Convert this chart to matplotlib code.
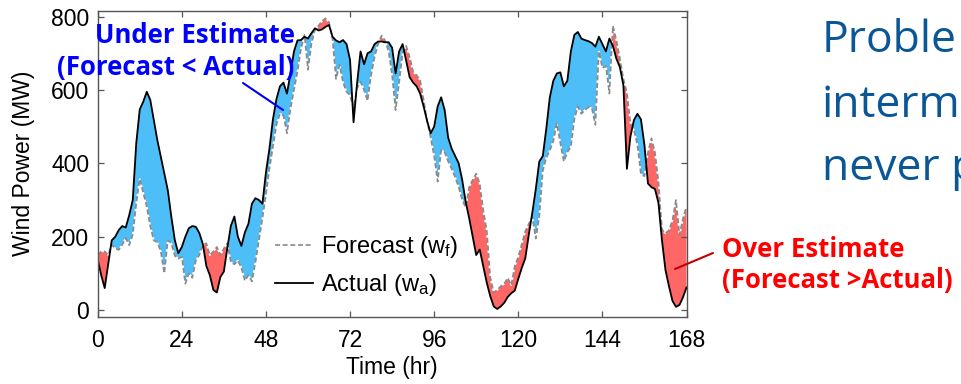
import numpy as np
import matplotlib
matplotlib.use("Agg")
import matplotlib.pyplot as plt

plt.rcParams['font.family'] = ['Liberation Sans', 'DejaVu Sans']
plt.rcParams['mathtext.default'] = 'regular'

# ---- data (hourly) ----
hours = list(range(0, 169))
actual = [
    138, 95, 60, 125, 190, 200, 218, 229, 225, 259,
    300, 455, 547, 568, 595, 573, 518, 464, 418, 373,
    327, 255, 191, 155, 172, 200, 223, 229, 227, 210,
    180, 120, 95, 55, 48, 90, 105, 170, 230, 255,
    200, 175, 212, 235, 290, 305, 300, 290, 375, 440,
    520, 575, 610, 620, 590, 645, 705, 735, 736, 745,
    740, 755, 768, 762, 765, 772, 777, 745, 735, 730,
    736, 725, 682, 512, 618, 705, 670, 700, 705, 725,
    732, 732, 730, 730, 715, 645, 705, 725, 680, 635,
    620, 610, 590, 555, 515, 482, 500, 555, 580, 545,
    470, 440, 420, 400, 355, 295, 250, 200, 150, 165,
    120, 75, 38, 10, 3, 10, 20, 36, 46, 53,
    85, 115, 141, 205, 265, 330, 405, 420, 495, 580,
    625, 645, 648, 610, 625, 705, 750, 758, 740, 736,
    733, 728, 718, 745, 725, 705, 740, 720, 685, 662,
    612, 385, 473, 518, 535, 520, 450, 345, 335, 330,
    292, 190, 109, 65, 25, 9, 14, 35, 62]
forecast = [
    150, 160, 160, 150, 178, 168, 164, 178, 196, 177,
    205, 290, 357, 320, 282, 228, 190, 185, 160, 100,
    190, 182, 148, 140, 145, 72, 100, 88, 135, 150,
    178, 182, 150, 160, 172, 150, 168, 182, 130, 125,
    135, 115, 80, 95, 78, 130, 190, 250, 315, 385,
    445, 505, 535, 530, 482, 548, 600, 650, 712, 750,
    655, 727, 764, 775, 788, 795, 785, 738, 630, 668,
    620, 595, 585, 550, 605, 622, 600, 570, 640, 690,
    725, 748, 735, 705, 640, 545, 620, 700, 720, 690,
    650, 640, 627, 573, 515, 470, 420, 350, 436, 430,
    405, 385, 362, 335, 300, 280, 336, 355, 372, 345,
    273, 218, 90, 48, 55, 65, 72, 88, 68, 120,
    145, 180, 215, 235, 255, 195, 255, 380, 415, 435,
    460, 509, 455, 405, 430, 445, 520, 555, 535, 545,
    553, 550, 505, 705, 660, 665, 590, 775, 735, 685,
    630, 592, 510, 490, 450, 370, 365, 430, 468, 430,
    350, 220, 209, 218, 245, 300, 205, 250, 282]
x_ticks = [0, 24, 48, 72, 96, 120, 144, 168]
y_ticks = [0, 200, 400, 600, 800]

h = np.array(hours, dtype=float)
a = np.array(actual, dtype=float)
f = np.array(forecast, dtype=float)

W, H = 961, 384
fig = plt.figure(figsize=(W / 100, H / 100), dpi=100)
ax = fig.add_axes([97.7 / W, 1 - 316.7 / H, (686.5 - 97.7) / W, (316.7 - 10.7) / H])

blue = '#4DBEF7'
red = '#FF6666'
ax.fill_between(h, a, f, where=f > a, interpolate=True, color=red, lw=0)
ax.fill_between(h, a, f, where=a >= f, interpolate=True, color=blue, lw=0)
ax.plot(h, f, color='#8a8a8a', ls=(0, (3, 1.6)), lw=1.2, gapcolor='white',
        label='Forecast (w$_f$)')
ax.plot(h, a, color='black', lw=1.3, label='Actual (w$_a$)')

ax.set_xlim(0, 168)
ax.set_ylim(-18, 816)
ax.set_xticks(x_ticks)
ax.set_yticks(y_ticks)
ax.tick_params(direction='in', top=True, right=True, length=4.5, width=0.9,
               color='#555555', labelsize=16.5, labelcolor='black')
ax.tick_params(axis='x', pad=9)
ax.tick_params(axis='y', pad=6)
for s in ax.spines.values():
    s.set_color('#555555')
    s.set_linewidth(1.0)

ax.set_xlabel('Time (hr)', fontsize=16.5)
ax.set_ylabel('Wind Power (MW)', fontsize=16.5)
ax.xaxis.set_label_coords(0.5, -0.128)
ax.yaxis.set_label_coords(-0.107, 0.5)

leg = ax.legend(loc='center left', bbox_to_anchor=(275 / W, 1 - 266 / H),
                bbox_transform=fig.transFigure, frameon=False, fontsize=17,
                handlelength=1.6, handletextpad=0.35, labelspacing=0.5,
                borderpad=0, borderaxespad=0)

# annotation pointer lines (figure pixel coordinates)
ax.annotate('', xy=(283, H - 110), xytext=(243, H - 83), xycoords='figure pixels',
            textcoords='figure pixels',
            arrowprops=dict(arrowstyle='-', color='#0000EE', lw=1.5, shrinkA=0, shrinkB=0))
ax.annotate('', xy=(675, H - 269), xytext=(713, H - 253), xycoords='figure pixels',
            textcoords='figure pixels',
            arrowprops=dict(arrowstyle='-', color='#C00000', lw=1.5, shrinkA=0, shrinkB=0))

bold = dict(family=['Open Sans', 'DejaVu Sans'], weight='bold', fontsize=18.5)
fig.text(295 / W, 1 - 43.3 / H, 'Under Estimate', color='#0000FF', ha='right',
         va='baseline', **bold)
fig.text(294 / W, 1 - 75 / H, '(Forecast < Actual)', color='#0000FF', ha='right',
         va='baseline', **bold)
fig.text(721.5 / W, 1 - 256.7 / H, 'Over Estimate', color='#FF0000', ha='left',
         va='baseline', **bold)
fig.text(721.5 / W, 1 - 288.3 / H, '(Forecast >Actual)', color='#FF0000', ha='left',
         va='baseline', **bold)

big = dict(family=['Open Sans', 'DejaVu Sans'], fontsize=32, color='#0A5696',
           ha='left', va='baseline')
fig.text(821.7 / W, 1 - 51.7 / H, 'Proble', **big)
fig.text(821.7 / W, 1 - 116.7 / H, 'interm', **big)
fig.text(821.7 / W, 1 - 180 / H, 'never p', **big)

fig.savefig('out.png', dpi=100)
